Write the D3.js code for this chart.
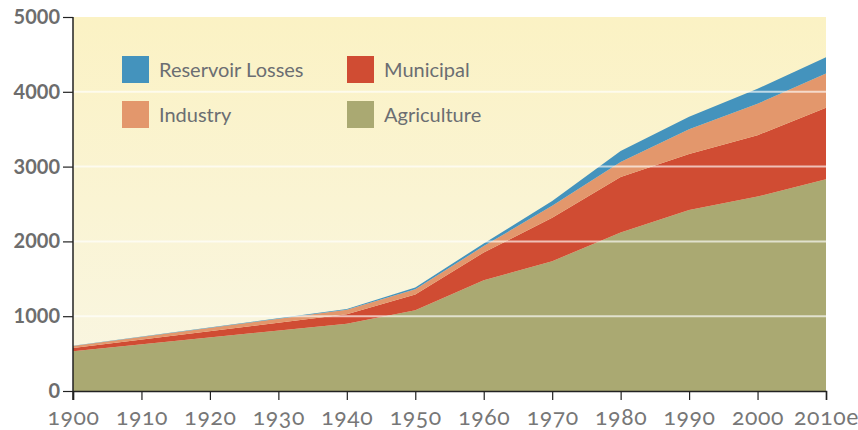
<!DOCTYPE html>
<html>
<head>
<meta charset="utf-8">
<script src="https://cdn.jsdelivr.net/npm/d3@7"></script>
<style>
  body { margin: 0; background: #fff; }
  svg text { font-family: Lato, "Open Sans", sans-serif; }
  .x-tick text {
    font-variant-numeric: oldstyle-nums;
    font-feature-settings: "onum" 1;
    letter-spacing: 0.6px;
  }
</style>
</head>
<body>
<div id="chart-area"></div>
<script>
// data (world water withdrawal, km3/yr)
const years = [1900, 1940, 1950, 1960, 1970, 1980, 1990, 2000, 2010]
const agriculture = [530, 900, 1080, 1482, 1735, 2120, 2420, 2600, 2830]
const municipal = [45, 125, 210, 370, 580, 740, 750, 820, 958]
const industry = [28, 60, 70, 85, 160, 200, 330, 420, 455]
const reservoirLosses = [3, 10, 25, 35, 65, 150, 165, 200, 218]

const xTickYears = [1900, 1910, 1920, 1930, 1940, 1950, 1960, 1970, 1980, 1990, 2000, 2010]
const xTickLabels = ["1900", "1910", "1920", "1930", "1940", "1950", "1960", "1970", "1980", "1990", "2000", "2010e"]
const yTicks = [0, 1000, 2000, 3000, 4000, 5000]

const seriesKeys = ["Agriculture", "Municipal", "Industry", "Reservoir Losses"]
const colors = {
  "Agriculture": "#aaa972",
  "Municipal": "#d04c33",
  "Industry": "#e3976c",
  "Reservoir Losses": "#4493bd"
}

// canvas and margins
const MARGIN = { LEFT: 73, RIGHT: 32, TOP: 17, BOTTOM: 39 }
const WIDTH = 858 - MARGIN.LEFT - MARGIN.RIGHT
const HEIGHT = 430 - MARGIN.TOP - MARGIN.BOTTOM

const svg = d3.select("#chart-area").append("svg")
  .attr("width", 858)
  .attr("height", 430)

const defs = svg.append("defs")
const grad = defs.append("linearGradient")
  .attr("id", "bg")
  .attr("x1", 0).attr("y1", 0).attr("x2", 0).attr("y2", 1)
grad.append("stop").attr("offset", "0%").attr("stop-color", "#fbf2c4")
grad.append("stop").attr("offset", "100%").attr("stop-color", "#f9f6e3")

const g = svg.append("g")
  .attr("transform", `translate(${MARGIN.LEFT}, ${MARGIN.TOP})`)

g.append("rect")
  .attr("width", WIDTH)
  .attr("height", HEIGHT)
  .attr("fill", "url(#bg)")

const x = d3.scaleLinear().domain([1900, 2010]).range([0, WIDTH])
const y = d3.scaleLinear().domain([0, 5000]).range([HEIGHT, 0])

// build rows for the stack
const rows = years.map((yr, i) => ({
  year: yr,
  "Agriculture": agriculture[i],
  "Municipal": municipal[i],
  "Industry": industry[i],
  "Reservoir Losses": reservoirLosses[i]
}))

const stacked = d3.stack().keys(seriesKeys)(rows)

const area = d3.area()
  .x(d => x(d.data.year))
  .y0(d => y(d[0]))
  .y1(d => y(d[1]))

g.selectAll("path.layer")
  .data(stacked)
  .enter().append("path")
  .attr("class", "layer")
  .attr("fill", d => colors[d.key])
  .attr("d", area)

// white gridlines over the areas
g.selectAll("line.grid")
  .data(yTicks.filter(v => v > 0 && v < 5000))
  .enter().append("line")
  .attr("class", "grid")
  .attr("x1", 0).attr("x2", WIDTH)
  .attr("y1", d => y(d)).attr("y2", d => y(d))
  .attr("stroke", "#fff")
  .attr("stroke-opacity", 0.65)
  .attr("stroke-width", 2)

// axes
const xAxis = g.append("g")
  .attr("class", "x-tick")
  .attr("transform", `translate(0, ${HEIGHT})`)
  .call(d3.axisBottom(x)
    .tickValues(xTickYears)
    .tickSize(9)
    .tickFormat((d, i) => xTickLabels[i]))
xAxis.select(".domain").attr("stroke", "#222").attr("stroke-width", 1.5)
xAxis.selectAll(".tick line").attr("stroke", "#222").attr("stroke-width", 1.2)
xAxis.selectAll("text")
  .attr("y", 34)
  .attr("dy", null)
  .attr("fill", "#777")
  .attr("font-size", "23px")

const yAxis = g.append("g")
  .call(d3.axisLeft(y)
    .tickValues(yTicks)
    .tickSize(10)
    .tickPadding(3)
    .tickFormat(d3.format("d")))
yAxis.select(".domain")
  .attr("d", `M0,0V${HEIGHT + 9}`)
  .attr("stroke", "#222").attr("stroke-width", 1.5)
yAxis.selectAll(".tick line").attr("stroke", "#222").attr("stroke-width", 1.2)
yAxis.selectAll("text")
  .attr("fill", "#6d6d6d")
  .attr("font-size", "20px")
  .attr("font-weight", "bold")

// legend
const legendItems = [
  { key: "Reservoir Losses", col: 0, row: 0 },
  { key: "Municipal", col: 1, row: 0 },
  { key: "Industry", col: 0, row: 1 },
  { key: "Agriculture", col: 1, row: 1 }
]
const legend = svg.append("g").attr("transform", "translate(122, 56)")
const li = legend.selectAll("g")
  .data(legendItems)
  .enter().append("g")
  .attr("transform", d => `translate(${d.col * 225}, ${d.row * 45})`)
li.append("rect")
  .attr("width", 27).attr("height", 27)
  .attr("fill", d => colors[d.key])
li.append("text")
  .attr("x", 37).attr("y", 14)
  .attr("dy", "0.35em")
  .attr("fill", "#6b6e72")
  .attr("font-size", "20px")
  .text(d => d.key)
</script>
</body>
</html>
